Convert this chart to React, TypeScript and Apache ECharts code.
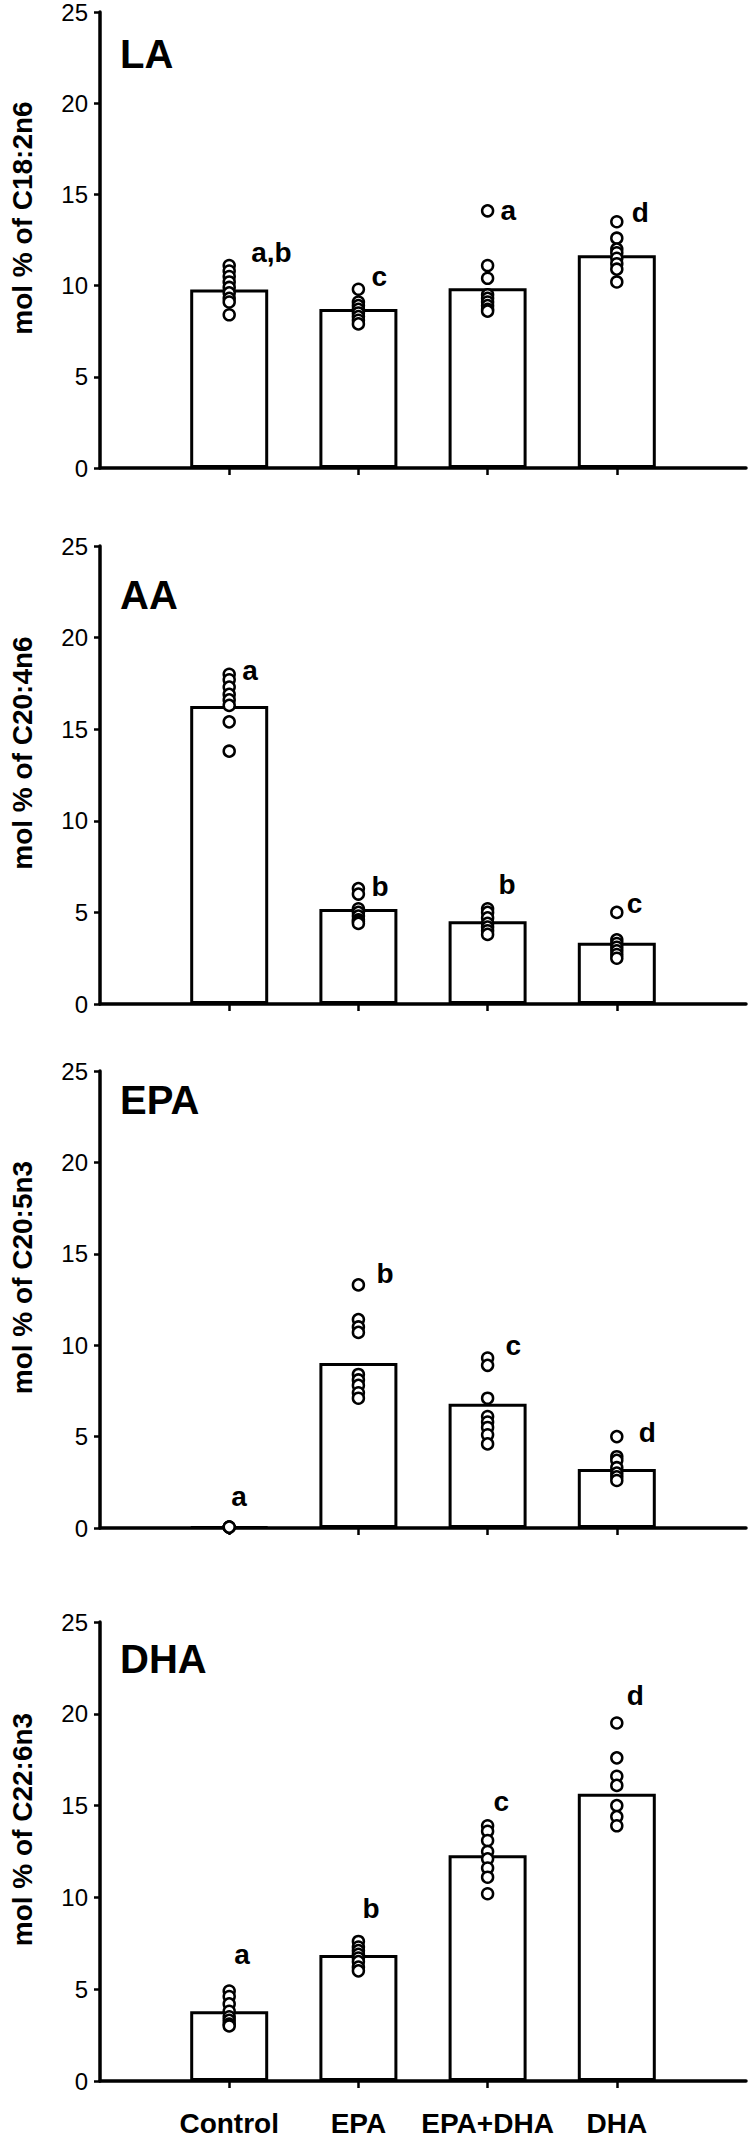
import React, { useEffect, useRef } from 'react';
import * as echarts from 'echarts';

const FONT = '"Liberation Sans", Arial, sans-serif';

const categories = ['', 'Control', 'EPA', 'EPA+DHA', 'DHA', ''];
const panelTitles = ['LA', 'AA', 'EPA', 'DHA'];
const yNames = ['mol % of C18:2n6', 'mol % of C20:4n6', 'mol % of C20:5n3', 'mol % of C22:6n3'];

// bar heights (group means)
const laMeans = [9.78, 8.72, 9.85, 11.66];
const aaMeans = [16.27, 5.19, 4.52, 3.35];
const epaMeans = [0.06, 9.02, 6.8, 3.23];
const dhaMeans = [3.8, 6.86, 12.3, 15.65];

// individual values per group: Control, EPA, EPA+DHA, DHA
const laPoints = [
  [11.1, 10.8, 10.5, 10.2, 9.9, 9.6, 9.3, 9.1, 8.4],
  [9.8, 9.1, 8.9, 8.7, 8.5, 8.3, 8.1, 7.9],
  [14.1, 11.1, 10.4, 9.5, 9.3, 9.1, 8.9, 8.7, 8.6],
  [13.5, 12.6, 12.0, 11.8, 11.5, 11.2, 10.9, 10.2],
];
const aaPoints = [
  [18.0, 17.7, 17.3, 16.9, 16.6, 16.3, 15.4, 13.8],
  [6.3, 6.0, 5.2, 5.0, 4.8, 4.6, 4.5, 4.4],
  [5.2, 5.0, 4.7, 4.4, 4.2, 4.0, 3.8],
  [5.0, 3.5, 3.3, 3.1, 2.9, 2.7, 2.5],
];
const epaPoints = [
  [0.05, 0.05, 0.05],
  [13.3, 11.4, 11.0, 10.7, 8.4, 8.1, 7.8, 7.4, 7.1],
  [9.3, 8.9, 7.1, 6.1, 5.8, 5.5, 5.1, 4.6],
  [5.0, 3.9, 3.7, 3.3, 3.0, 2.8, 2.6],
];
const dhaPoints = [
  [4.9, 4.6, 4.2, 3.8, 3.5, 3.3, 3.1, 3.0],
  [7.6, 7.3, 7.1, 6.9, 6.7, 6.5, 6.2, 6.0],
  [13.9, 13.6, 13.1, 12.5, 12.1, 11.6, 11.1, 10.2],
  [19.5, 17.6, 16.6, 16.1, 15.0, 14.4, 13.9],
];

// significance letters and the value height where each sits
const laLetters = ['a,b', 'c', 'a', 'd'];
const laLetterY = [11.8, 10.5, 14.1, 14.0];
const aaLetters = ['a', 'b', 'b', 'c'];
const aaLetterY = [18.2, 6.4, 6.5, 5.5];
const epaLetters = ['a', 'b', 'c', 'd'];
const epaLetterY = [1.7, 13.9, 10.0, 5.2];
const dhaLetters = ['a', 'b', 'c', 'd'];
const dhaLetterY = [6.9, 9.4, 15.2, 21.0];

const panels = [
  { title: panelTitles[0], yName: yNames[0], means: laMeans, points: laPoints, letters: laLetters, letterY: laLetterY },
  { title: panelTitles[1], yName: yNames[1], means: aaMeans, points: aaPoints, letters: aaLetters, letterY: aaLetterY },
  { title: panelTitles[2], yName: yNames[2], means: epaMeans, points: epaPoints, letters: epaLetters, letterY: epaLetterY },
  { title: panelTitles[3], yName: yNames[3], means: dhaMeans, points: dhaPoints, letters: dhaLetters, letterY: dhaLetterY },
];

// layout (pixels)
const gridTops = [12, 546, 1071, 1622];
const gridHeights = [456, 458, 457, 459];
const titleTops = [34, 575, 1080, 1639];
const letterDx = [
  [22, 13, 13, 15],
  [13, 13, 11, 10],
  [2, 18, 18, 22],
  [5, 4, 6, 10],
];

const showTick = (i: number) => i >= 1 && i <= 4;

function buildOption() {
  const grid: any[] = [];
  const xAxis: any[] = [];
  const yAxis: any[] = [];
  const series: any[] = [];
  const graphic: any[] = [];

  panels.forEach((p, k) => {
    grid.push({ left: 90, width: 656, top: gridTops[k], height: gridHeights[k] });
    xAxis.push({
      gridIndex: k,
      type: 'category',
      data: categories,
      boundaryGap: false,
      axisLine: { lineStyle: { color: '#000', width: 3.5 } },
      axisTick: { show: true, interval: showTick, length: 7, lineStyle: { color: '#000', width: 2.5 } },
      axisLabel: {
        show: k === 3,
        interval: showTick,
        color: '#000',
        fontSize: 28,
        fontWeight: 'bold',
        fontFamily: FONT,
        margin: 28,
      },
      splitLine: { show: false },
    });
    yAxis.push({
      gridIndex: k,
      type: 'value',
      min: 0,
      max: 25,
      interval: 5,
      axisLine: { show: true, lineStyle: { color: '#000', width: 3.5 } },
      axisTick: { show: true, length: 6, lineStyle: { color: '#000', width: 2.5 } },
      axisLabel: { color: '#000', fontSize: 24, fontFamily: FONT, margin: 12 },
      splitLine: { show: false },
      name: p.yName,
      nameLocation: 'middle',
      nameGap: 64,
      nameRotate: 90,
      nameTextStyle: {
        color: '#000',
        fontSize: 28,
        fontWeight: 'bold',
        fontFamily: FONT,
        padding: [0, 0, 0, 44],
      },
    });
    series.push({
      type: 'bar',
      xAxisIndex: k,
      yAxisIndex: k,
      data: ['-', ...p.means, '-'],
      barWidth: 78,
      itemStyle: { color: '#fff', borderColor: '#000', borderWidth: 3 },
      silent: true,
      z: 2,
    });
    series.push({
      type: 'scatter',
      xAxisIndex: k,
      yAxisIndex: k,
      data: p.points.flatMap((arr, i) => arr.map((v) => [i + 1, v])),
      symbol: 'circle',
      symbolSize: 11,
      itemStyle: { color: '#fff', borderColor: '#000', borderWidth: 2.5, opacity: 1 },
      silent: true,
      z: 3,
    });
    series.push({
      type: 'scatter',
      xAxisIndex: k,
      yAxisIndex: k,
      symbolSize: 0,
      itemStyle: { opacity: 1, color: '#000' },
      data: p.letters.map((t, i) => ({
        value: [i + 1, p.letterY[i]],
        name: t,
        label: { distance: letterDx[k][i] },
      })),
      label: {
        show: true,
        position: 'right',
        formatter: (prm: any) => prm.name,
        color: '#000',
        opacity: 1,
        fontSize: 28,
        fontWeight: 'bold',
        fontFamily: FONT,
        align: 'left',
        verticalAlign: 'middle',
      },
      silent: true,
      z: 4,
    });
    graphic.push({
      type: 'text',
      left: 120,
      top: titleTops[k],
      style: { text: p.title, font: 'bold 40px "Liberation Sans", Arial, sans-serif', fill: '#000' },
    });
  });

  return { animation: false, backgroundColor: '#fff', grid, xAxis, yAxis, series, graphic };
}

export default function App() {
  const ref = useRef<HTMLDivElement>(null);
  useEffect(() => {
    const chart = echarts.init(ref.current!, null, { renderer: 'svg' });
    chart.setOption(buildOption());
    return () => chart.dispose();
  }, []);
  return (
    <div
      ref={ref}
      style={{ position: 'absolute', left: 0, top: 0, width: 748, height: 2148, background: '#fff' }}
    />
  );
}
